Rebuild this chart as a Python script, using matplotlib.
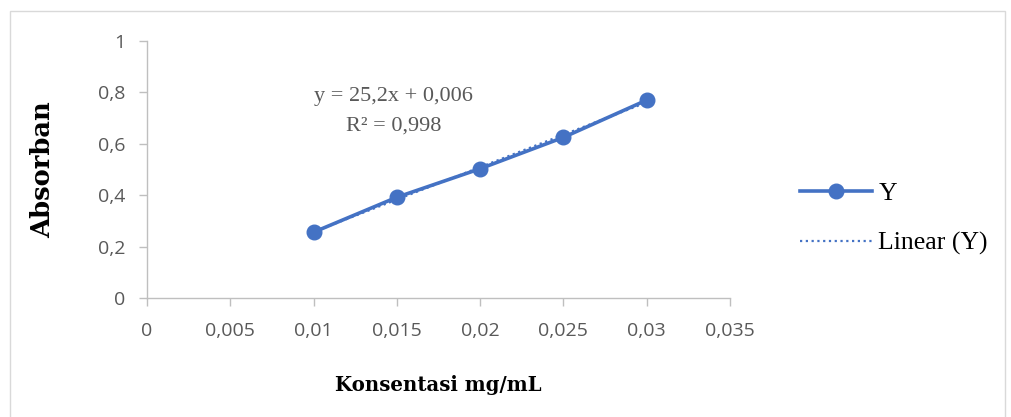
import numpy as np
import matplotlib
matplotlib.use("Agg")
import matplotlib.pyplot as plt
from matplotlib.patches import Rectangle
from matplotlib.ticker import FuncFormatter

# data
konsentrasi = [0.010, 0.015, 0.020, 0.025, 0.030]
absorban = [0.256, 0.392, 0.503, 0.625, 0.770]
x_ticks = [0, 0.005, 0.01, 0.015, 0.02, 0.025, 0.03, 0.035]
y_ticks = [0, 0.2, 0.4, 0.6, 0.8, 1]
equation = "y = 25,2x + 0,006\nR² = 0,998"

blue = "#4472C4"
grey = "#BFBFBF"
tickcol = "#595959"

fig = plt.figure(figsize=(10.11, 4.17), dpi=100)
# light frame around the chart area
fig.patches.append(Rectangle((10 / 1011, -0.05), 995 / 1011, 1.05 - 11 / 417,
                             transform=fig.transFigure, fill=False,
                             edgecolor="#D9D9D9", linewidth=1))
ax = fig.add_axes([147 / 1011, 1 - 298 / 417, 583 / 1011, 257 / 417])

ax.plot(konsentrasi, absorban, color=blue, linewidth=2.6, marker="o",
        markersize=10.5, label="Y", zorder=3)

# linear trendline
k, b = np.polyfit(konsentrasi, absorban, 1)
xs = np.array([konsentrasi[0], konsentrasi[-1]])
ax.plot(xs, k * xs + b, color=blue, linewidth=1.6, linestyle=(0, (1, 1.6)),
        label="Linear (Y)", zorder=2)

ax.set_xlim(0, 0.035)
ax.set_ylim(0, 1)
ax.set_xticks(x_ticks)
ax.set_yticks(y_ticks)
fmt = FuncFormatter(lambda v, p: ("%g" % round(v, 4)).replace(".", ","))
ax.xaxis.set_major_formatter(fmt)
ax.yaxis.set_major_formatter(fmt)

for s in ["top", "right"]:
    ax.spines[s].set_visible(False)
for s in ["left", "bottom"]:
    ax.spines[s].set_color(grey)
    ax.spines[s].set_linewidth(1)
ax.tick_params(axis="both", colors=grey, labelcolor=tickcol, length=5.5,
               width=1, labelsize=14)
ax.tick_params(axis="x", pad=12)
ax.tick_params(axis="y", pad=10)
for lab in ax.get_xticklabels() + ax.get_yticklabels():
    lab.set_family("Open Sans")

ax.set_xlabel("Konsentasi mg/mL", family="DejaVu Serif", fontweight="bold",
              fontsize=14.2, labelpad=25)
ax.set_ylabel("Absorban", family="DejaVu Serif", fontweight="bold",
              fontsize=18.5, labelpad=31)

ax.text(0.0148, 0.728, equation, family="Liberation Serif", fontsize=16,
        color=tickcol, ha="center", va="center", linespacing=1.75)

fig.legend(loc="upper left", bbox_to_anchor=(777 / 1011, 1 - 159 / 417),
           frameon=False, prop={"family": "Liberation Serif", "size": 18.5},
           handlelength=2.8, labelspacing=1.05, handletextpad=0.25)

fig.savefig("out.png", dpi=100)
